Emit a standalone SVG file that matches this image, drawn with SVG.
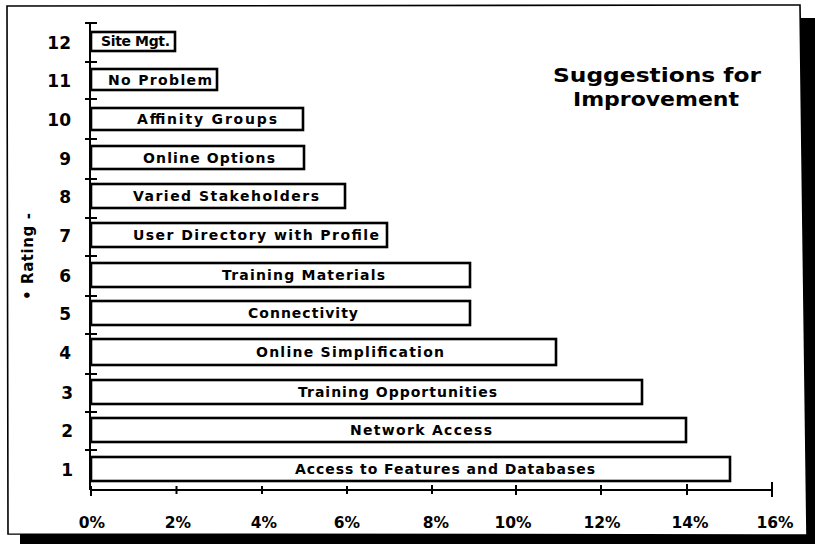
<svg xmlns="http://www.w3.org/2000/svg" width="815" height="546" viewBox="0 0 815 546">
<style>
.bar{fill:#fff;stroke:#000;stroke-width:2.6}
.lbl{font-family:"DejaVu Sans","Liberation Sans",sans-serif;font-weight:bold;font-size:14px;fill:#000}
.num{font-family:"DejaVu Sans","Liberation Sans",sans-serif;font-weight:bold;font-size:17px;fill:#000;text-anchor:end}
.ax{font-family:"DejaVu Sans","Liberation Sans",sans-serif;font-weight:bold;font-size:15.5px;fill:#000;text-anchor:middle}
.ttl{font-family:"DejaVu Sans","Liberation Sans",sans-serif;font-weight:bold;font-size:20px;fill:#000;text-anchor:middle}
.tk{stroke:#000;stroke-width:2;fill:none}
</style>
<rect x="0" y="0" width="815" height="546" fill="#fff"/>
<polygon points="795,18 815,18 815,544 20,544 20,528 795,528" fill="#000"/>
<polygon points="7,6 800,5 807,535 8,534" fill="#fff" stroke="#000" stroke-width="1.6"/>

<g id="title">
<text class="ttl" x="657" y="82" textLength="208" lengthAdjust="spacingAndGlyphs">Suggestions for</text>
<text class="ttl" x="656" y="106" textLength="166" lengthAdjust="spacingAndGlyphs">Improvement</text>
</g>

<g id="y-title">
<text transform="translate(33,256.5) rotate(-90)" x="0" y="0" text-anchor="middle" font-family="DejaVu Sans, Liberation Sans, sans-serif" font-weight="bold" font-size="15" textLength="87" lengthAdjust="spacing">• Rating -</text>
</g>

<g id="axes">
<line class="tk" x1="90" y1="23" x2="90" y2="490" stroke-width="1.6"/>
<line class="tk" x1="90" y1="490" x2="772" y2="490"/>
<path class="tk" d="M85,23H97M85,62H97M85,99H97M85,139H97M85,179H97M85,218H97M85,256H97M85,296H97M85,334H97M85,374H97M85,412H97M85,450H97"/>
<path class="tk" d="M91,486V496M176.5,486V494M262,486V494M347,486V494M432,485V494M516,485V495M601,485V495M687,484V495M772,482V497"/>
<text class="ax" x="92" y="528">0%</text>
<text class="ax" x="178" y="528">2%</text>
<text class="ax" x="264" y="528">4%</text>
<text class="ax" x="347" y="528">6%</text>
<text class="ax" x="436" y="528">8%</text>
<text class="ax" x="513" y="528">10%</text>
<text class="ax" x="602" y="528">12%</text>
<text class="ax" x="690" y="528">14%</text>
<text class="ax" x="775" y="528">16%</text>
</g>

<g id="bar12"><rect class="bar" x="91" y="32" width="84" height="19"/><text class="num" x="71" y="49">12</text><text class="lbl" x="101" y="46" textLength="69" lengthAdjust="spacing">Site Mgt.</text></g>
<g id="bar11"><rect class="bar" x="91" y="69" width="126" height="21"/><text class="num" x="71" y="87">11</text><text class="lbl" x="108" y="84.5" textLength="104" lengthAdjust="spacing">No Problem</text></g>
<g id="bar10"><rect class="bar" x="91" y="108" width="212" height="22"/><text class="num" x="71" y="126">10</text><text class="lbl" x="137" y="124" textLength="140" lengthAdjust="spacing">Affinity Groups</text></g>
<g id="bar9"><rect class="bar" x="91" y="146" width="213" height="23"/><text class="num" x="71" y="164.5">9</text><text class="lbl" x="143" y="162.5" textLength="132" lengthAdjust="spacing">Online Options</text></g>
<g id="bar8"><rect class="bar" x="91" y="184" width="254" height="24"/><text class="num" x="71" y="203">8</text><text class="lbl" x="133" y="201" textLength="186" lengthAdjust="spacing">Varied Stakeholders</text></g>
<g id="bar7"><rect class="bar" x="91" y="223" width="296" height="24"/><text class="num" x="71" y="242">7</text><text class="lbl" x="133" y="240" textLength="246" lengthAdjust="spacing">User Directory with Profile</text></g>
<g id="bar6"><rect class="bar" x="91" y="263" width="379" height="24"/><text class="num" x="71" y="282">6</text><text class="lbl" x="222" y="280" textLength="163" lengthAdjust="spacing">Training Materials</text></g>
<g id="bar5"><rect class="bar" x="91" y="301" width="379" height="24"/><text class="num" x="71" y="320">5</text><text class="lbl" x="248" y="318" textLength="110" lengthAdjust="spacing">Connectivity</text></g>
<g id="bar4"><rect class="bar" x="91" y="339" width="465" height="26"/><text class="num" x="71" y="359">4</text><text class="lbl" x="256" y="357" textLength="188" lengthAdjust="spacing">Online Simplification</text></g>
<g id="bar3"><rect class="bar" x="91" y="380" width="551" height="24"/><text class="num" x="73" y="399">3</text><text class="lbl" x="298" y="397" textLength="199" lengthAdjust="spacing">Training Opportunities</text></g>
<g id="bar2"><rect class="bar" x="91" y="418" width="595" height="24"/><text class="num" x="73" y="437">2</text><text class="lbl" x="350" y="435" textLength="142" lengthAdjust="spacing">Network Access</text></g>
<g id="bar1"><rect class="bar" x="91" y="457" width="639" height="24"/><text class="num" x="73" y="476">1</text><text class="lbl" x="295" y="474" textLength="300" lengthAdjust="spacing">Access to Features and Databases</text></g>
</svg>
